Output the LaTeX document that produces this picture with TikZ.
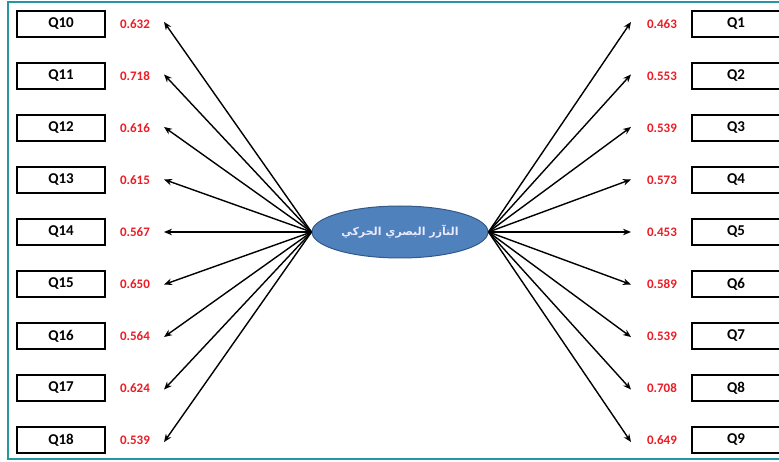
\documentclass[tikz,border=0pt]{standalone}
\usepackage{fontspec}
\setmainfont{Carlito}
\newfontfamily\arabicfont[Script=Arabic]{DejaVu Sans}
\TeXXeTstate=1
\usepackage{xcolor}
\definecolor{frameteal}{RGB}{38,150,160}
\definecolor{factorblue}{RGB}{79,129,189}
\definecolor{factordark}{RGB}{52,88,135}
\definecolor{loadred}{RGB}{237,28,36}
\usetikzlibrary{arrows.meta, shapes.geometric}

\begin{document}
\begin{tikzpicture}[x=1pt, y=-1pt,
    qbox/.style={draw, line width=1.8pt, minimum width=88pt, minimum height=26pt,
                 inner sep=0pt, font=\fontsize{15}{15}\selectfont\bfseries},
    loadlbl/.style={text=loadred, inner sep=0pt, font=\fontsize{13}{13}\selectfont\bfseries},
    loadarrow/.style={-{Stealth[length=8pt, width=6.5pt]}, line width=1.4pt}]
      \useasboundingbox (0,0) rectangle (779,462);

      % Frame
      \draw[frameteal, line width=1.2pt] (790,2) -- (8,2) -- (8,459) -- (790,459);

      % Factor
      \node[ellipse, draw=factordark, line width=1pt, fill=factorblue,
            minimum width=176pt, minimum height=52pt, inner sep=0pt,
            text=white!92!blue, font=\fontsize{11}{11}\selectfont\bfseries]
           (fac) at (400,232) {\arabicfont\beginR التآزر البصري الحركي\endR};

      % Left items
      \foreach \n/\v [count=\r from 0] in {10/0.632, 11/0.718, 12/0.616, 13/0.615,
                14/0.567, 15/0.650, 16/0.564, 17/0.624, 18/0.539}{
        \pgfmathsetmacro\yy{24+52*\r}
        \pgfmathsetmacro\ty{232+1.01*(\yy-232)}
        \node[qbox] (q\n) at (61,\yy) {Q\n};
        \node[loadlbl] (v\n) at (135,\yy) {\v};
        \coordinate (t\n) at (164,\ty);
        \draw[loadarrow] (fac.west) -- (t\n);
      }

      % Right items
      \foreach \n/\v [count=\r from 0] in {1/0.463, 2/0.553, 3/0.539, 4/0.573,
                5/0.453, 6/0.589, 7/0.539, 8/0.708, 9/0.649}{
        \pgfmathsetmacro\yy{24+52*\r}
        \pgfmathsetmacro\ty{232+1.01*(\yy-232)}
        \node[qbox] (q\n) at (736,\yy) {Q\n};
        \node[loadlbl] (v\n) at (662,\yy) {\v};
        \coordinate (t\n) at (631,\ty);
        \draw[loadarrow] (fac.east) -- (t\n);
      }
    \end{tikzpicture}
\end{document}
